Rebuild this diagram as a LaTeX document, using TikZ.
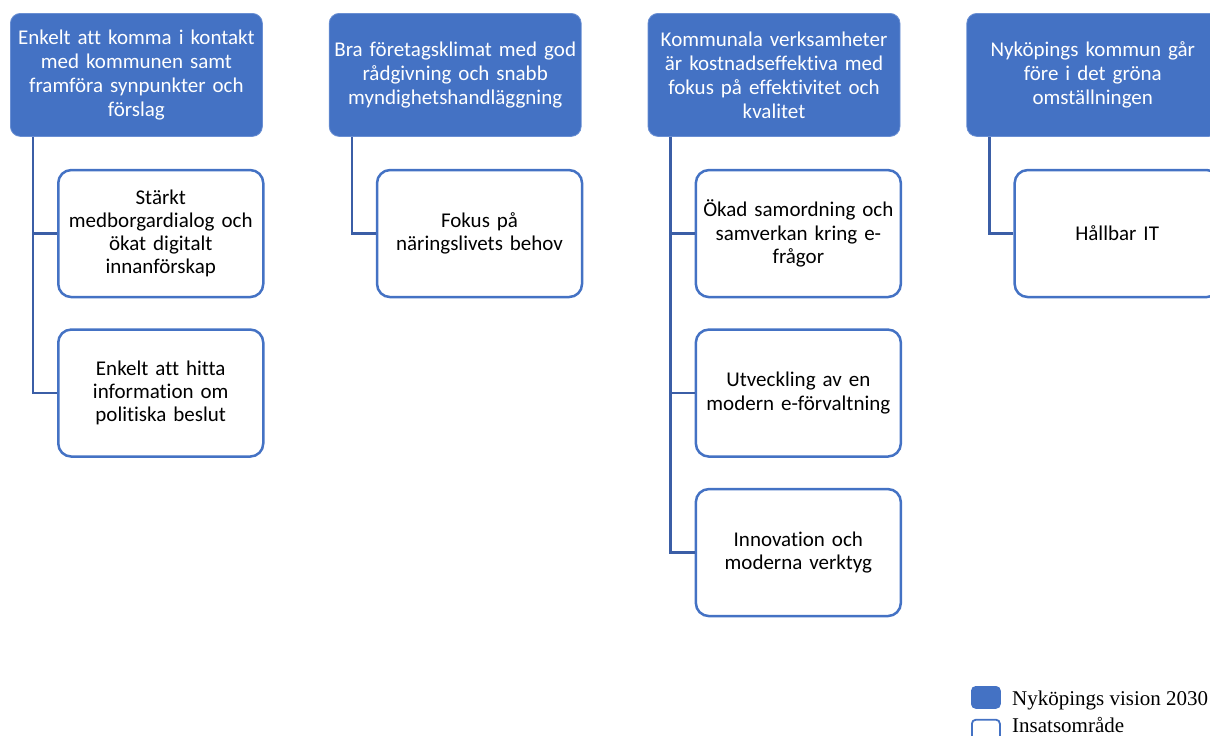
\documentclass[tikz,border=0pt]{standalone}
\usepackage{fontspec}
\setmainfont{Carlito}[RawFeature=-liga]
\newfontfamily\legendfont{Liberation Serif}
\usetikzlibrary{positioning}
\definecolor{visFill}{HTML}{4472C4}
\definecolor{visDraw}{HTML}{6A8FD3}
\definecolor{insDraw}{HTML}{4472C4}
\definecolor{connDraw}{HTML}{3B5EA6}
\tikzset{
  box/.style    ={align=center, inner sep=0pt, font=\fontsize{21}{24}\selectfont},
  vision/.style ={box, fill=visFill, draw=visDraw, line width=0.8pt, rounded corners=10pt,
                  text=white, minimum width=252pt, minimum height=123pt, text width=250pt},
  insats/.style ={box, fill=white, draw=insDraw, line width=2.5pt, rounded corners=13pt,
                  minimum width=205pt, minimum height=127pt, text width=203pt,
                  font=\fontsize{21}{23.2}\selectfont},
  conn/.style   ={draw=connDraw, line width=2.5pt},
  legbox/.style ={draw=insDraw, line width=1.8pt, rounded corners=4pt, minimum width=28pt, minimum height=21pt, inner sep=0pt},
  legtext/.style={font=\legendfont\fontsize{21}{21}\selectfont, inner sep=0pt, anchor=base west},
}
\begin{document}
\begin{tikzpicture}[x=1pt, y=-1pt]
  \clip (0,0) rectangle (1210,736);

  % visions, one column each
  \node[vision, anchor=north west] (v1) at (10,13)
    {Enkelt att komma i kontakt\\med kommunen samt\\framföra synpunkter och\\förslag};
  \node[vision, right=66pt of v1] (v2)
    {Bra företagsklimat med god\\rådgivning och snabb\\myndighetshandläggning};
  \node[vision, right=66pt of v2] (v3)
    {Kommunala verksamheter\\är kostnadseffektiva med\\fokus på effektivitet och\\kvalitet};
  \node[vision, right=66pt of v3] (v4)
    {Nyköpings kommun går\\före i det gröna\\omställningen};

  % insatsområden under each vision
  \node[insats, below right=32pt and 47pt of v1.south west] (i1a)
    {Stärkt\\medborgardialog och\\ökat digitalt\\innanförskap};
  \node[insats, below=30pt of i1a] (i1b) {Enkelt att hitta\\information om\\politiska beslut};
  \node[insats, below right=32pt and 47pt of v2.south west] (i2a) {Fokus på\\näringslivets behov};
  \node[insats, below right=32pt and 47pt of v3.south west] (i3a)
    {Ökad samordning och\\samverkan kring e-\\frågor};
  \node[insats, below=30pt of i3a] (i3b) {Utveckling av en\\modern e-förvaltning};
  \node[insats, below=30pt of i3b] (i3c) {Innovation och\\moderna verktyg};
  \node[insats, below right=32pt and 47pt of v4.south west] (i4a) {Hållbar IT};

  % connectors
  \foreach \v/\i in {v1/i1a, v1/i1b, v2/i2a, v3/i3a, v3/i3b, v3/i3c, v4/i4a}
    \draw[conn] ([xshift=23pt]\v.south west) |- (\i.west);

  % legend
  \node[legbox, fill=visFill, anchor=north west] (lv) at (971,686) {};
  \node[legbox, fill=white, below=10pt of lv] (li) {};
  \node[legtext] (lvt) at (1012,705) {Nyköpings vision 2030};
  \node[legtext] (lit) at (1012,732) {Insatsområde};
\end{tikzpicture}
\end{document}
